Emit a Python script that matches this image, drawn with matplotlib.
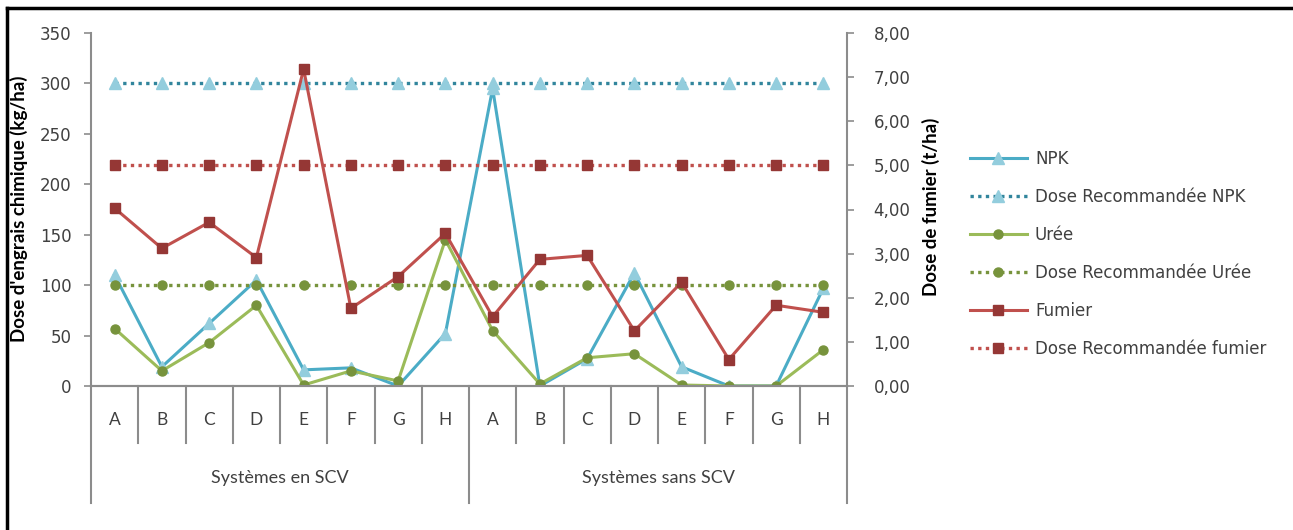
import matplotlib
matplotlib.use("Agg")
import matplotlib.pyplot as plt
from matplotlib.lines import Line2D
from matplotlib.ticker import FuncFormatter, MultipleLocator

categories = ["A", "B", "C", "D", "E", "F", "G", "H"] * 2
groups = ["Systèmes en SCV", "Systèmes sans SCV"]

npk = [110, 19, 62, 105, 16, 18, 0, 52, 295, 0, 27, 112, 19, 0, 0, 97]
npk_rec = [300] * 16
uree = [57, 15, 43, 80, 1, 15, 5, 145, 55, 2, 28, 32, 1, 0, 0, 36]
uree_rec = [100] * 16
fumier = [4.03, 3.12, 3.71, 2.91, 7.18, 1.76, 2.48, 3.46,
          1.57, 2.87, 2.96, 1.25, 2.35, 0.60, 1.83, 1.67]
fumier_rec = [5.0] * 16

W, H = 1293, 530
fig = plt.figure(figsize=(W / 100, H / 100), dpi=100)
fig.patch.set_facecolor("white")

x0, x1, y0, y1 = 91, 847, 386, 33
ax = fig.add_axes([x0 / W, 1 - y0 / H, (x1 - x0) / W, (y0 - y1) / H])
ax2 = ax.twinx()

xs = list(range(len(categories)))
GREY = "#8c8c8c"
TXT = "#404040"
DOT = (0, (1, 1.3))

c_npk, c_npk_m, c_npk_r = "#4BACC6", "#93CDDD", "#31859C"
c_ur, c_ur_m = "#9BBB59", "#77933C"
c_fu, c_fu_m = "#C0504D", "#953735"

l1, = ax.plot(xs, npk, color=c_npk, lw=2.2, marker="^", ms=9,
              mfc=c_npk_m, mec=c_npk_m, label="NPK", zorder=3)
l2, = ax.plot(xs, npk_rec, color=c_npk_r, lw=2.4, ls=DOT, marker="^", ms=9,
              mfc=c_npk_m, mec=c_npk_m, label="Dose Recommandée NPK", zorder=3)
l3, = ax.plot(xs, uree, color=c_ur, lw=2.2, marker="o", ms=6.5,
              mfc=c_ur_m, mec=c_ur_m, label="Urée", zorder=3)
l4, = ax.plot(xs, uree_rec, color=c_ur_m, lw=2.4, ls=DOT, marker="o", ms=6.5,
              mfc=c_ur_m, mec=c_ur_m, label="Dose Recommandée Urée", zorder=3)
l5, = ax2.plot(xs, fumier, color=c_fu, lw=2.2, marker="s", ms=6.5,
               mfc=c_fu_m, mec=c_fu_m, label="Fumier", zorder=3)
l6, = ax2.plot(xs, fumier_rec, color=c_fu, lw=2.4, ls=DOT, marker="s", ms=6.5,
               mfc=c_fu_m, mec=c_fu_m, label="Dose Recommandée fumier", zorder=3)

ax.set_xlim(-0.5, len(xs) - 0.5)
ax.set_ylim(0, 350)
ax2.set_ylim(0, 8)
ax.yaxis.set_major_locator(MultipleLocator(50))
ax2.yaxis.set_major_locator(MultipleLocator(1))
ax2.yaxis.set_major_formatter(FuncFormatter(lambda v, p: f"{v:.2f}".replace(".", ",")))

for a in (ax, ax2):
    a.spines["top"].set_visible(False)
    for s in ("left", "right", "bottom"):
        a.spines[s].set_color(GREY)
        a.spines[s].set_linewidth(1.5)
ax.spines["right"].set_visible(False)
ax2.spines["left"].set_visible(False)

ax.tick_params(axis="y", length=5, width=1.2, color=GREY, pad=9, labelsize=12, labelcolor=TXT)
ax2.tick_params(axis="y", length=5, width=1.2, color=GREY, pad=14, labelsize=12, labelcolor=TXT)
ax.set_xticks([])

# category separators and labels
trans = ax.get_xaxis_transform()
span = 386 - 33
ysep_cat = -(443 - 386) / span
ysep_grp = -(503 - 386) / span
for i in range(len(xs) + 1):
    xb = i - 0.5
    yend = ysep_grp if i % 8 == 0 else ysep_cat
    ax.add_line(Line2D([xb, xb], [0, yend], transform=trans, color=GREY,
                       lw=1.5, clip_on=False))
for i, c in enumerate(categories):
    ax.text(i, -(420 - 386) / span, c, transform=trans, ha="center",
            va="center", family="Lato", fontsize=12.5, color=TXT)
for g, name in enumerate(groups):
    ax.text(g * 8 + 3.5, -(478 - 386) / span, name, transform=trans,
            ha="center", va="center", family="Lato", fontsize=13, color=TXT)

fig.text(19 / W, 1 - 209 / H, "Dose d'engrais chimique (kg/ha)", rotation=90,
         ha="center", va="center", family="Lato", fontweight="bold", fontsize=13.5)
fig.text(931 / W, 1 - 207 / H, "Dose de fumier (t/ha)", rotation=90,
         ha="center", va="center", family="Lato", fontweight="bold", fontsize=13.5)

leg = fig.legend(handles=[l1, l2, l3, l4, l5, l6], loc="upper left",
                 bbox_to_anchor=(955 / W, 1 - 135 / H), frameon=False,
                 handlelength=3.4, labelspacing=1.2, numpoints=1,
                 prop=dict(family="DejaVu Sans", size=12), handletextpad=0.5)
for t in leg.get_texts():
    t.set_color(TXT)

# outer border (top and left only)
fig.add_artist(Line2D([7 / W, 1], [1 - 8 / H, 1 - 8 / H], color="black", lw=2.5,
                      transform=fig.transFigure))
fig.add_artist(Line2D([7 / W, 7 / W], [0, 1 - 8 / H], color="black", lw=2.5,
                      transform=fig.transFigure))

fig.savefig("out.png", dpi=100)
